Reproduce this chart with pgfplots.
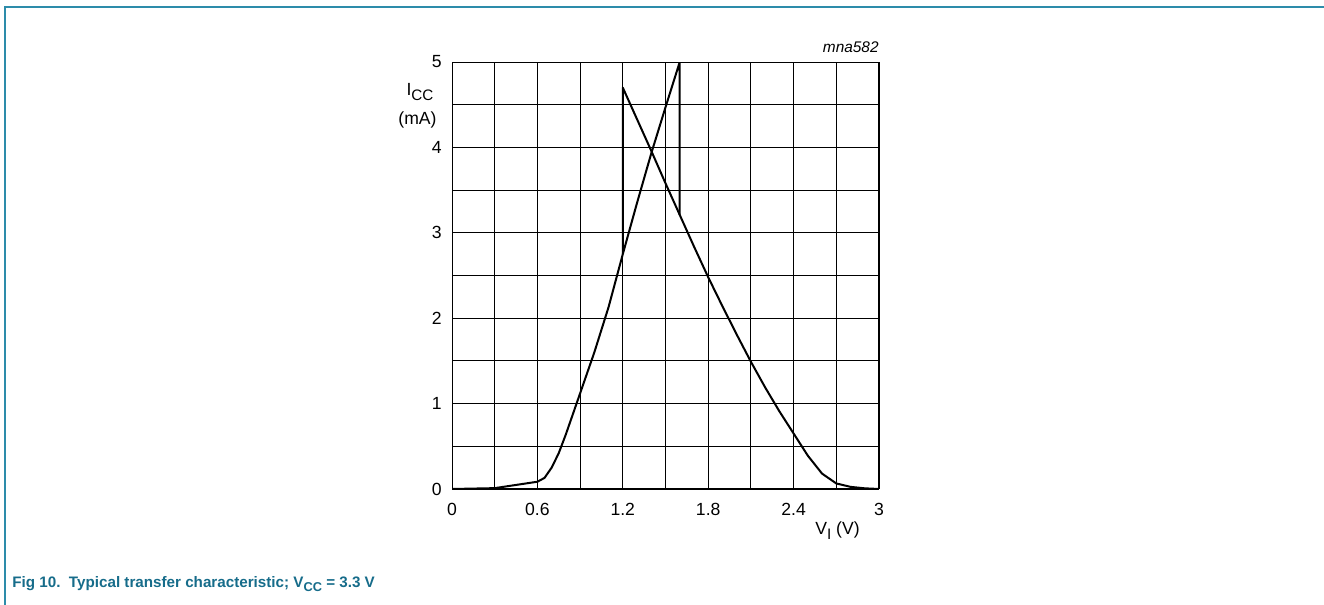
\documentclass[border=0pt]{standalone}
\usepackage{fontspec}
\setmainfont{Liberation Sans}
\usepackage{pgfplots}
\pgfplotsset{compat=1.18}
\definecolor{nxpteal}{RGB}{22,108,138}
\definecolor{framec}{RGB}{45,140,170}
\newcommand\lsub[1]{\raisebox{-2.5pt}{\fontsize{7.6}{9}\selectfont #1}}
\newcommand\csub[1]{\raisebox{-2pt}{\fontsize{6.4}{8}\selectfont\bfseries #1}}
\begin{document}
\begin{tikzpicture}
\useasboundingbox (0,0) rectangle (662pt,302.5pt);
% frame
\draw[framec, line width=0.8pt] (2.5pt,0pt) -- (2.5pt,299pt) -- (662pt,299pt);
\begin{axis}[
  at={(226pt,58pt)}, anchor=south west,
  scale only axis, width=213.5pt, height=213.5pt,
  xmin=0, xmax=3, ymin=0, ymax=5,
  xtick={0,0.6,1.2,1.8,2.4,3},
  xticklabels={0,0.6,1.2,1.8,2.4,3},
  minor xtick={0.3,0.9,1.5,2.1,2.7},
  ytick={0,1,2,3,4,5},
  yticklabels={0,1,2,3,4,5},
  minor ytick={0.5,1.5,2.5,3.5,4.5},
  grid=both,
  major grid style={black, line width=0.45pt},
  minor grid style={black, line width=0.45pt},
  axis line style={black, line width=0.5pt},
  major tick length=0pt, minor tick length=0pt,
  tick label style={font=\fontsize{8.8}{10}\selectfont},
  xticklabel style={anchor=north, inner sep=0pt, yshift=-6.8pt},
  yticklabel style={anchor=east, inner sep=0pt, xshift=-5pt},
]
\addplot[black, line width=1pt, line join=round] coordinates {
(0,0) (0.3,0.01) (0.6,0.085) (0.65,0.13) (0.7,0.25) (0.75,0.42) (0.8,0.64)
(0.85,0.88) (0.9,1.12) (1.0,1.6) (1.1,2.13) (1.2,2.75) (1.3,3.35) (1.4,3.93)
(1.5,4.47) (1.6,5.0)
(1.6,3.21) (1.7,2.84) (1.8,2.48) (1.9,2.14) (2.0,1.81) (2.1,1.49) (2.2,1.19)
(2.3,0.91) (2.4,0.65) (2.5,0.39) (2.6,0.18) (2.7,0.065) (2.8,0.025) (2.9,0.008) (3,0)
};
\addplot[black, line width=1pt, line join=round] coordinates {
(1.2,2.75) (1.2,4.70) (1.3,4.33) (1.4,3.96) (1.5,3.58) (1.6,3.21)
};
\end{axis}
% axis labels
\node[anchor=base, inner sep=0pt, font=\fontsize{8.8}{10}\selectfont] at (210pt,254.5pt) {I\lsub{CC}};
\node[anchor=base, inner sep=0pt, font=\fontsize{8.8}{10}\selectfont] at (208.75pt,240.25pt) {(mA)};
\node[anchor=base, inner sep=0pt, font=\fontsize{8.8}{10}\selectfont] at (418.75pt,35.2pt) {V\lsub{I} (V)};
\node[anchor=base east, inner sep=0pt, font=\fontsize{7.7}{9}\selectfont\itshape] at (439.5pt,276pt) {mna582};
% caption
\node[anchor=base west, inner sep=0pt, text=nxpteal, font=\fontsize{7.6}{9}\selectfont\bfseries] at (6pt,8.5pt) {Fig 10.\ \ Typical transfer characteristic; V\csub{CC} = 3.3 V};
\end{tikzpicture}
\end{document}
